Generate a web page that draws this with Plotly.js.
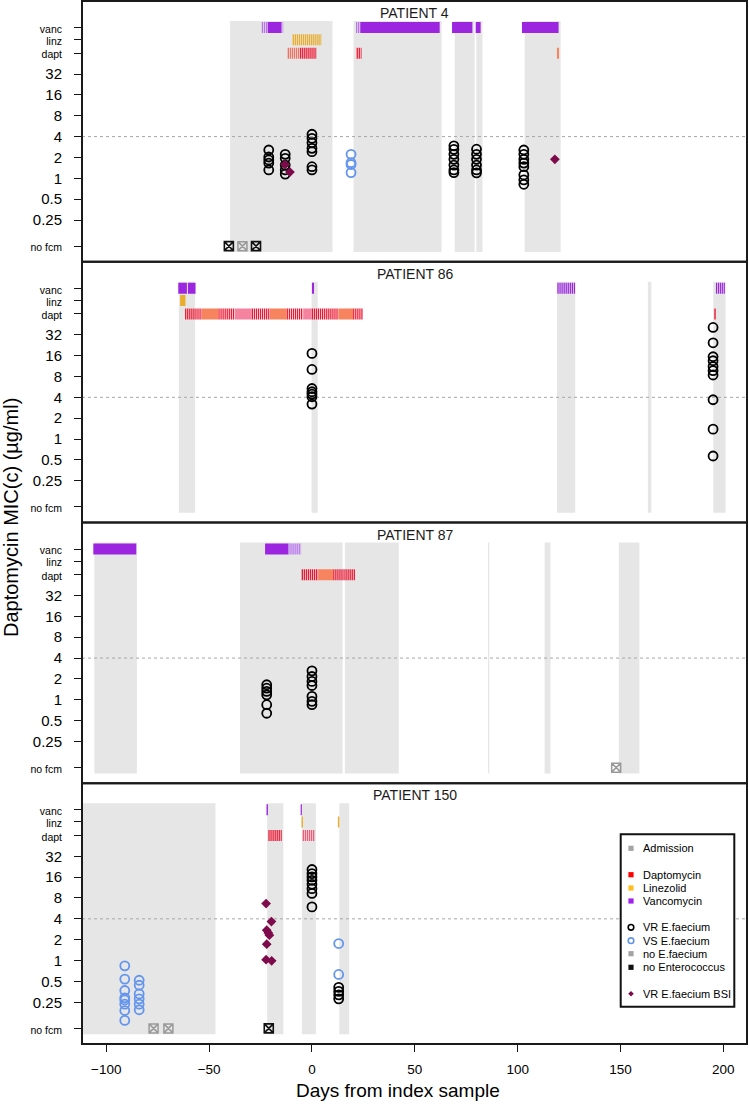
<!DOCTYPE html>
<html><head><meta charset="utf-8">
<script src="https://cdn.plot.ly/plotly-3.0.1.min.js"></script>
<style>html,body{margin:0;padding:0;background:#fff}#chart{width:749px;height:1104px}</style>
</head><body><div id="chart"></div>
<script>
// ================= DATA =================
const patientNames = ['PATIENT 4', 'PATIENT 86', 'PATIENT 87', 'PATIENT 150'];
const micTickVals = [0.105, 0.25, 0.5, 1, 2, 4, 8, 16, 32, 64, 100, 150];
const micTickText = ['no fcm', '0.25', '0.5', '1', '2', '4', '8', '16', '32', 'dapt', 'linz', 'vanc'];
const smallTickLabels = ['no fcm', 'dapt', 'linz', 'vanc'];
const dayTicks = [-100, -50, 0, 50, 100, 150, 200];
const dayRange = [-111.8, 211.5];
const breakpointMIC = 4;
const noFcmLevel = 0.105;
const drugRowLevel = {dapt: 64, linz: 100, vanc: 150};

// admissions [start day, end day]
const adm4   = [[-39.8, 10], [20.2, 63], [69.4, 79.1], [79.9, 82.9], [103.4, 120.9]];
const adm86  = [[-64.7, -56.8], [-0.2, 2.8], [119.1, 128], [163.3, 165], [195.1, 201.1]];
const adm87  = [[-105.8, -85.1], [-35, 14.9], [16, 42.2], [85.6, 86.2], [113.1, 116], [149.2, 159.2]];
const adm150 = [[-111.8, -46.9], [-21.8, -13.9], [-4.9, 1.9], [13.3, 18.1]];

// antibiotic courses [start day, end day, dosing pattern]
const vanc4 = [[-24.4, -21.5, 'light'], [-21.5, -15, 'solid'], [-15, -13.9, 'light'], [21.4, 23.5, 'light'], [23.5, 62.1, 'solid'], [68.1, 78.0, 'solid'], [79.6, 82.0, 'solid'], [102.1, 119.9, 'solid']];
const linz4 = [[-9.4, 4.7, 'stripe']];
const dapt4 = [[-11.8, -5.8, 'salmonstripe'], [-5.8, 2.3, 'stripe'], [21.7, 24.1, 'stripe'], [119.1, 120.1, 'salmon']];

const vanc86 = [[-65, -60.8, 'solid'], [-60.3, -56.6, 'solid'], [0, 1, 'solid'], [119.3, 128, 'stripe'], [196.4, 200.8, 'stripe']];
const linz86 = [[-64.1, -61.5, 'solid']];
const dapt86 = [[-61.7, -53.5, 'stripe'], [-53.5, -45.5, 'salmon'], [-45.5, -37.4, 'stripe'], [-37.4, -29.3, 'pink'], [-29.3, -20.4, 'stripe'], [-20.4, -12.3, 'salmon'], [-12.3, -4.2, 'stripe'], [-4.2, -0.1, 'pink'], [-0.1, 12.8, 'stripe'], [12.8, 20, 'salmon'], [20, 24.6, 'stripe'], [195.6, 196.3, 'solid']];

const vanc87 = [[-106.3, -85.4, 'solid'], [-22.8, -11.5, 'solid'], [-11.5, -5.3, 'light']];
const linz87 = [];
const dapt87 = [[-5, 3.1, 'stripe'], [3.1, 10.3, 'salmon'], [10.3, 20.9, 'stripe']];

const vanc150 = [[-22.1, -21.4, 'solid'], [-5.5, -4.9, 'solid']];
const linz150 = [[-5.1, -4.4, 'solid'], [12.6, 13.3, 'solid']];
const dapt150 = [[-21.2, -14.7, 'stripe'], [-4.5, 1.5, 'pinkstripe']];

// VR E. faecium isolates (day, MIC)
const vr4Day = [-21,-21,-21,-21,-21, -13,-13,-13,-13,-13, 0,0,0,0,0,0,0, 69,69,69,69,69,69,69, 80,80,80,80,80,80, 103,103,103,103,103,103,103,103];
const vr4Mic = [2.56,2.03,1.84,1.66,1.32, 2.22,1.94,1.55,1.32,1.15, 4.32,3.77,3.25,2.71,2.42,1.47,1.32, 2.94,2.62,2.22,1.88,1.55,1.32,1.21, 2.63,2.22,1.88,1.55,1.32,1.2, 2.56,2.22,1.88,1.66,1.47,1.12,0.95,0.82];
const vs4Day = [19, 19, 19, 19];
const vs4Mic = [2.22, 1.68, 1.58, 1.21];
const bsi4Day = [-13.1, -10.7, 118.1];
const bsi4Mic = [1.58, 1.23, 1.88];
const noFae4Day = [-33.8];
const noEnt4Day = [-40.4, -27.2];

const vr86Day = [0,0,0,0,0,0,0, 195,195,195,195,195,195,195,195,195,195];
const vr86Mic = [17.2,10.1,5.37,4.82,4.46,4.08,3.2, 40.8,24.5,15.4,13.5,11.1,9.7,8.4,3.69,1.39,0.57];
const vs86Day = [], vs86Mic = [];
const bsi86Day = [], bsi86Mic = [];
const noFae86Day = [], noEnt86Day = [];

const vr87Day = [-22,-22,-22,-22,-22,-22, 0,0,0,0,0,0,0];
const vr87Mic = [1.65,1.47,1.32,1.18,0.85,0.64, 2.62,2.17,1.84,1.61,1.12,0.95,0.85];
const vs87Day = [], vs87Mic = [];
const bsi87Day = [], bsi87Mic = [];
const noFae87Day = [147.9], noEnt87Day = [];

const vr150Day = [0,0,0,0,0,0,0,0, 13,13,13,13];
const vr150Mic = [20.6,18,16.1,14.4,12.6,10.9,9.3,5.94, 0.41,0.36,0.32,0.28];
const vs150Day = [-91,-91,-91,-91,-91,-91,-91,-91, -84,-84,-84,-84,-84,-84, 13,13];
const vs150Mic = [0.84,0.54,0.37,0.29,0.27,0.235,0.19,0.137, 0.52,0.44,0.33,0.28,0.235,0.195, 1.76,0.63];
const bsi150Day = [-22.3,-19.7,-22,-21.2,-20.7,-22,-22.3,-19.6];
const bsi150Mic = [6.65,3.66,2.74,2.5,2.32,1.72,1.03,0.99];
const noFae150Day = [-77, -69.8];
const noEnt150Day = [-21];

const legendLabels = ['Admission', 'Daptomycin', 'Linezolid', 'Vancomycin', 'VR E.faecium', 'VS E.faecium', 'no E.faecium', 'no Enterococcus', 'VR E.faecium BSI'];

// ================= BUILD =================
const panels = [
  {adm: adm4, drugs: {vanc: vanc4, linz: linz4, dapt: dapt4}, vr: [vr4Day, vr4Mic], vs: [vs4Day, vs4Mic], bsi: [bsi4Day, bsi4Mic], noFae: noFae4Day, noEnt: noEnt4Day},
  {adm: adm86, drugs: {vanc: vanc86, linz: linz86, dapt: dapt86}, vr: [vr86Day, vr86Mic], vs: [vs86Day, vs86Mic], bsi: [bsi86Day, bsi86Mic], noFae: noFae86Day, noEnt: noEnt86Day},
  {adm: adm87, drugs: {vanc: vanc87, linz: linz87, dapt: dapt87}, vr: [vr87Day, vr87Mic], vs: [vs87Day, vs87Mic], bsi: [bsi87Day, bsi87Mic], noFae: noFae87Day, noEnt: noEnt87Day},
  {adm: adm150, drugs: {vanc: vanc150, linz: linz150, dapt: dapt150}, vr: [vr150Day, vr150Mic], vs: [vs150Day, vs150Mic], bsi: [bsi150Day, bsi150Mic], noFae: noFae150Day, noEnt: noEnt150Day}
];

const FONT = 'Liberation Sans, Arial, Helvetica, sans-serif';
const drugColor = {vanc: '#9c26df', linz: '#e9ad2b', dapt: '#ec1833'};
const STRIPE = '1.3px,0.75px';
function courseStyle(drug, code) {
  switch (code) {
    case 'solid': return {color: drugColor[drug], dash: 'solid'};
    case 'stripe': return {color: drugColor[drug], dash: STRIPE};
    case 'light': return {color: '#b872ee', dash: STRIPE};
    case 'salmon': return {color: '#f8845f', dash: 'solid'};
    case 'salmonstripe': return {color: '#f27262', dash: STRIPE};
    case 'pink': return {color: '#f5829f', dash: 'solid'};
    case 'pinkstripe': return {color: '#ef5a78', dash: STRIPE};
  }
  return {color: drugColor[drug], dash: 'solid'};
}

const traces = [];
const shapes = [];
const borderShapes = [];
const annotations = [];
const layout = {
  width: 749, height: 1104,
  margin: {l: 82, r: 2, t: 1, b: 60},
  paper_bgcolor: '#ffffff', plot_bgcolor: '#ffffff',
  showlegend: false,
  font: {family: FONT, color: '#000'},
  hovermode: false
};

const log2 = Math.log10(2);
const yRange = [-4.0 * log2, 8.5 * log2];
const tickTextFmt = micTickText.map(t => smallTickLabels.includes(t) ? '<span style="font-size:10.5px">' + t + '</span>' : t);

panels.forEach((p, i) => {
  const sfx = i === 0 ? '' : String(i + 1);
  const xa = 'x' + sfx, ya = 'y' + sfx;
  const isBottom = i === panels.length - 1;
  layout['xaxis' + sfx] = {
    domain: [0, 1], anchor: ya, range: dayRange, type: 'linear',
    showline: false, showgrid: false, zeroline: false,
    ticks: isBottom ? 'outside' : '', ticklen: 7, tickwidth: 1, tickcolor: '#151515',
    showticklabels: isBottom, tickmode: 'array', tickvals: dayTicks,
    tickfont: {family: FONT, size: 13.5, color: '#000'}, ticklabelstandoff: 6,
    fixedrange: true
  };
  layout['yaxis' + sfx] = {
    domain: [1 - (i + 1) * 0.25, 1 - i * 0.25], anchor: xa, type: 'log', range: yRange,
    showline: false, showgrid: false, zeroline: false,
    ticks: 'outside', ticklen: 7, tickwidth: 1, tickcolor: '#151515',
    tickmode: 'array', tickvals: micTickVals, ticktext: tickTextFmt,
    tickfont: {family: FONT, size: 15, color: '#000'}, ticklabelstandoff: 9,
    fixedrange: true
  };

  // admissions
  p.adm.forEach(a => {
    shapes.push({type: 'rect', xref: xa, yref: ya + ' domain', x0: a[0], x1: a[1], y0: 0.037, y1: 0.923,
      fillcolor: '#e6e6e6', line: {width: 0}, layer: 'below'});
  });
  // breakpoint dashed line
  shapes.push({type: 'line', xref: xa + ' domain', x0: 0, x1: 1, yref: ya, y0: breakpointMIC, y1: breakpointMIC,
    line: {color: '#a8a8a8', width: 1, dash: '3px,3px'}, layer: 'below'});
  // panel frame
  borderShapes.push({type: 'rect', xref: xa + ' domain', yref: ya + ' domain', x0: 0, x1: 1, y0: 0, y1: 1,
    line: {color: '#1a1a1a', width: 2}, fillcolor: 'rgba(0,0,0,0)', layer: 'above'});

  // antibiotic courses
  Object.keys(p.drugs).forEach(drug => {
    const groups = {};
    p.drugs[drug].forEach(c => {
      const code = c[2];
      if (!groups[code]) groups[code] = {x: [], y: []};
      groups[code].x.push(c[0], c[1], null);
      groups[code].y.push(drugRowLevel[drug], drugRowLevel[drug], null);
    });
    Object.keys(groups).forEach(code => {
      const st = courseStyle(drug, code);
      traces.push({type: 'scatter', mode: 'lines', xaxis: xa, yaxis: ya, x: groups[code].x, y: groups[code].y,
        line: {width: 11, color: st.color, dash: st.dash}, hoverinfo: 'skip', showlegend: false});
    });
  });

  // isolates
  traces.push({type: 'scatter', mode: 'markers', xaxis: xa, yaxis: ya, x: p.vs[0], y: p.vs[1], name: 'VS E.faecium',
    marker: {symbol: 'circle-open', size: 9, color: '#6495ed', line: {width: 1.8}}});
  traces.push({type: 'scatter', mode: 'markers', xaxis: xa, yaxis: ya, x: p.vr[0], y: p.vr[1], name: 'VR E.faecium',
    marker: {symbol: 'circle-open', size: 9, color: '#000000', line: {width: 1.8}}});
  traces.push({type: 'scatter', mode: 'markers', xaxis: xa, yaxis: ya, x: p.noFae, y: p.noFae.map(() => noFcmLevel), name: 'no E.faecium',
    marker: {symbol: 'square-x-open', size: 9, color: '#9a9a9a', line: {width: 1.5}}, cliponaxis: false});
  traces.push({type: 'scatter', mode: 'markers', xaxis: xa, yaxis: ya, x: p.noEnt, y: p.noEnt.map(() => noFcmLevel), name: 'no Enterococcus',
    marker: {symbol: 'square-x-open', size: 9, color: '#111111', line: {width: 1.6}}, cliponaxis: false});
  traces.push({type: 'scatter', mode: 'markers', xaxis: xa, yaxis: ya, x: p.bsi[0], y: p.bsi[1], name: 'VR E.faecium BSI',
    marker: {symbol: 'diamond', size: 7.5, color: '#7d0b4c', line: {width: 0}}});

  // panel title
  annotations.push({xref: xa + ' domain', yref: ya + ' domain', x: 0.5, y: 1 - 12 / 260.75, xanchor: 'center', yanchor: 'middle',
    text: patientNames[i], showarrow: false, font: {family: FONT, size: 14, color: '#1a1a1a'}});
});

// pixel -> paper helpers (for titles and legend box)
const PL = 82, PT = 1, PW = 665, PH = 1043;
const px2x = px => (px - PL) / PW;
const py2y = py => 1 - (py - PT) / PH;

annotations.push({xref: 'paper', yref: 'paper', x: px2x(11), y: py2y(518), textangle: -90, xanchor: 'center', yanchor: 'middle',
  text: 'Daptomycin MIC(c) (µg/ml)', showarrow: false, font: {family: FONT, size: 20, color: '#000'}});
annotations.push({xref: 'paper', yref: 'paper', x: px2x(398), y: py2y(1090), xanchor: 'center', yanchor: 'middle',
  text: 'Days from index sample', showarrow: false, font: {family: FONT, size: 19, color: '#000'}});

// manual legend
shapes.push({type: 'rect', xref: 'paper', yref: 'paper', x0: px2x(620.7), x1: px2x(734.3), y0: py2y(1006.7), y1: py2y(834.3),
  line: {color: '#111', width: 2}, fillcolor: '#ffffff', layer: 'above'});
const legendRowsPx = [848.3, 874.7, 888, 901, 927.3, 940.7, 953.7, 967.3, 993.7];
const legendGlyph = [
  {k: 'sq', c: '#a3a3a3'}, {k: 'sq', c: '#ff0000'}, {k: 'sq', c: '#ffbf1f'}, {k: 'sq', c: '#a020f0'},
  {k: 'circ', c: '#000000'}, {k: 'circ', c: '#6495ed'}, {k: 'sq', c: '#a3a3a3'}, {k: 'sq', c: '#111111'}, {k: 'dia', c: '#7d0b4c'}
];
legendLabels.forEach((lab, j) => {
  const cy = legendRowsPx[j], cx = 631;
  const g = legendGlyph[j];
  if (g.k === 'sq') {
    shapes.push({type: 'rect', xref: 'paper', yref: 'paper', x0: px2x(cx - 2.6), x1: px2x(cx + 2.6), y0: py2y(cy + 2.6), y1: py2y(cy - 2.6),
      fillcolor: g.c, line: {width: 0}, layer: 'above'});
  } else if (g.k === 'circ') {
    shapes.push({type: 'circle', xref: 'paper', yref: 'paper', x0: px2x(cx - 2.8), x1: px2x(cx + 2.8), y0: py2y(cy + 2.8), y1: py2y(cy - 2.8),
      fillcolor: 'rgba(0,0,0,0)', line: {width: 1.6, color: g.c}, layer: 'above'});
  } else {
    const r = 2.8;
    shapes.push({type: 'path', xref: 'paper', yref: 'paper',
      path: 'M ' + px2x(cx - r) + ' ' + py2y(cy) + ' L ' + px2x(cx) + ' ' + py2y(cy - r) + ' L ' + px2x(cx + r) + ' ' + py2y(cy) + ' L ' + px2x(cx) + ' ' + py2y(cy + r) + ' Z',
      fillcolor: g.c, line: {width: 0}, layer: 'above'});
  }
  annotations.push({xref: 'paper', yref: 'paper', x: px2x(641), y: py2y(cy), xanchor: 'left', yanchor: 'middle',
    text: lab, showarrow: false, font: {family: FONT, size: 11, color: '#000'}});
});

layout.shapes = borderShapes.concat(shapes);
layout.annotations = annotations;

Plotly.newPlot('chart', traces, layout, {displayModeBar: false, staticPlot: true});
</script>
</body></html>
